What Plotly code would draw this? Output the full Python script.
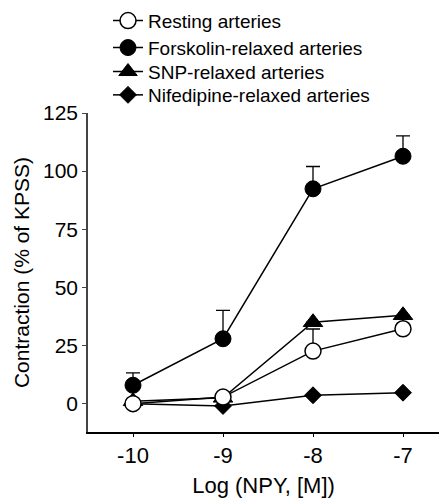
import plotly.graph_objects as go

log_npy = [-10, -9, -8, -7]

resting = [0.0, 2.8, 22.6, 32.2]
resting_err = [0.0, 0.0, 9.5, 5.0]

forskolin = [7.9, 27.9, 92.4, 106.4]
forskolin_err = [5.3, 12.2, 9.6, 8.8]

snp = [1.0, 2.5, 35.0, 38.0]
snp_err = [0.0, 0.0, 0.0, 0.0]

nifedipine = [0.0, -1.0, 3.6, 4.7]
nifedipine_err = [0.0, 0.0, 0.0, 0.0]

y_ticks = [0, 25, 50, 75, 100, 125]
x_ticks = [-10, -9, -8, -7]

FONT = "Liberation Sans, Arial, sans-serif"

def err(arr):
    return dict(type="data", symmetric=False, array=arr,
                arrayminus=[0] * len(arr), color="black",
                thickness=1.3, width=7)

fig = go.Figure()

fig.add_trace(go.Scatter(
    x=log_npy, y=nifedipine, name="Nifedipine-relaxed arteries",
    mode="lines+markers", legend="legend4",
    line=dict(color="black", width=1.5),
    marker=dict(symbol="diamond", size=13, color="black",
                line=dict(color="black", width=1)),
    error_y=err(nifedipine_err)))

fig.add_trace(go.Scatter(
    x=log_npy, y=forskolin, name="Forskolin-relaxed arteries",
    mode="lines+markers", legend="legend2",
    line=dict(color="black", width=1.5),
    marker=dict(symbol="circle", size=16, color="black",
                line=dict(color="black", width=1)),
    error_y=err(forskolin_err)))

fig.add_trace(go.Scatter(
    x=log_npy, y=snp, name="SNP-relaxed arteries",
    mode="lines+markers", legend="legend3",
    line=dict(color="black", width=1.5),
    marker=dict(symbol="triangle-up", size=17, color="black",
                line=dict(color="black", width=1)),
    error_y=err(snp_err)))

fig.add_trace(go.Scatter(
    x=log_npy, y=resting, name="Resting arteries",
    mode="lines+markers", legend="legend",
    line=dict(color="black", width=1.5),
    marker=dict(symbol="circle", size=16, color="white",
                line=dict(color="black", width=1.5)),
    error_y=err(resting_err)))

def leg(y):
    return dict(x=0.057, y=y, xanchor="left", yanchor="middle",
                bgcolor="rgba(0,0,0,0)", borderwidth=0,
                font=dict(family=FONT, size=19, color="black"),
                itemsizing="trace")

fig.update_layout(
    width=439, height=498,
    margin=dict(l=88, r=0, t=113, b=66, pad=0),
    paper_bgcolor="white", plot_bgcolor="white",
    font=dict(family=FONT, size=18, color="black"),
    showlegend=True,
    legend=leg(1.2893),
    legend2=leg(1.2047),
    legend3=leg(1.1295),
    legend4=leg(1.0564),
    xaxis=dict(range=[-10.5, -6.6], tickvals=x_ticks,
               ticktext=[str(v) for v in x_ticks],
               showgrid=False, zeroline=False, showline=True,
               linecolor="black", linewidth=2, ticks="outside",
               ticklen=3, tickwidth=1, tickcolor="black",
               tickfont=dict(size=22),
               title=dict(text="Log (NPY, [M])", font=dict(size=22), standoff=10)),
    yaxis=dict(range=[-12.2, 125], tickvals=y_ticks,
               ticktext=[str(v) for v in y_ticks],
               showgrid=False, zeroline=False, showline=True,
               linecolor="#444", linewidth=1.5, ticks="outside",
               ticklen=4, tickcolor="#444", tickwidth=1,
               tickfont=dict(size=21),
               title=dict(text="Contraction (% of KPSS)", font=dict(size=21), standoff=8)),
)

fig.write_html("out.html")
